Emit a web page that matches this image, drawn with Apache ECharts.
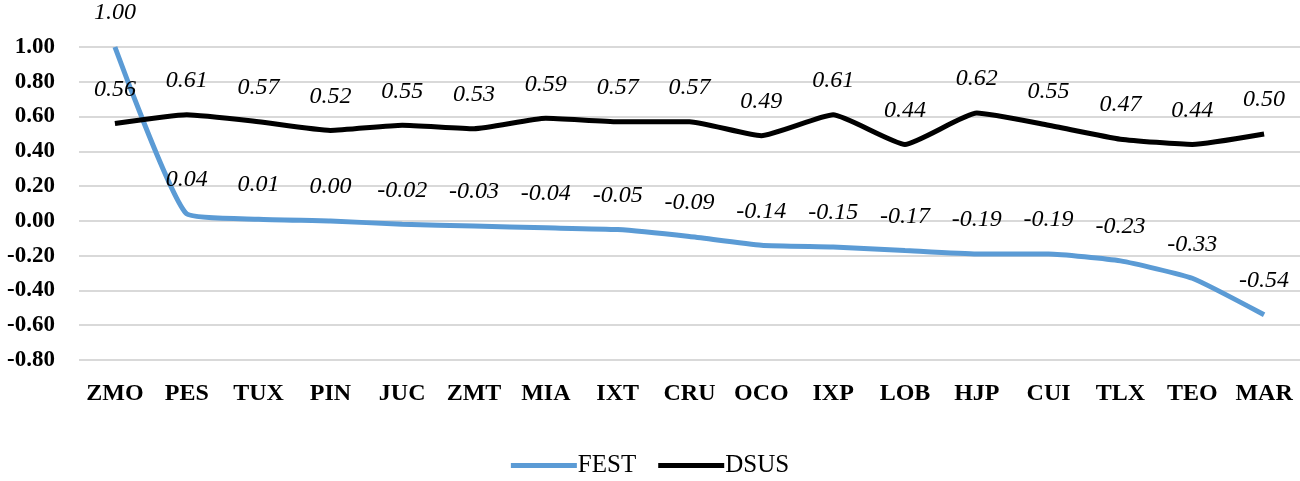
<!DOCTYPE html>
<html><head><meta charset="utf-8">
<script src="https://cdn.jsdelivr.net/npm/echarts@6/dist/echarts.min.js"></script>
<style>html,body{margin:0;padding:0;background:#fff}#c{width:1300px;height:481px}</style>
</head><body><div id="c"></div>
<script>
const categories = ['ZMO','PES','TUX','PIN','JUC','ZMT','MIA','IXT','CRU','OCO','IXP','LOB','HJP','CUI','TLX','TEO','MAR'];
const fest = [1.00,0.04,0.01,0.00,-0.02,-0.03,-0.04,-0.05,-0.09,-0.14,-0.15,-0.17,-0.19,-0.19,-0.23,-0.33,-0.54];
const dsus = [0.56,0.61,0.57,0.52,0.55,0.53,0.59,0.57,0.57,0.49,0.61,0.44,0.62,0.55,0.47,0.44,0.50];
const chart = echarts.init(document.getElementById('c'));
const lbl = {show:true, position:'top', distance:22, fontFamily:'Liberation Serif', fontStyle:'italic', fontSize:24, color:'#000', formatter:p=>p.value.toFixed(2)};
chart.setOption({
  animation:false,
  grid:{left:79, right:0, top:47, bottom:121},
  legend:{bottom:-2, left:'center', itemWidth:66, itemHeight:5, itemGap:22,
    textStyle:{fontFamily:'Liberation Serif', fontSize:25, color:'#000', padding:[0,0,0,-4]},
    data:[{name:'FEST', icon:'rect'},{name:'DSUS', icon:'rect'}]},
  xAxis:{type:'category', data:categories, boundaryGap:true,
    axisLine:{show:false}, axisTick:{show:false},
    axisLabel:{interval:0, hideOverlap:false, fontFamily:'Liberation Serif', fontWeight:'bold', fontSize:24, color:'#000', margin:22}},
  yAxis:{type:'value', min:-0.8, max:1.0, interval:0.2,
    axisLine:{show:false}, axisTick:{show:false},
    splitLine:{lineStyle:{color:'#d9d9d9', width:2}},
    axisLabel:{fontFamily:'Liberation Serif', fontWeight:'bold', fontSize:23, color:'#000', margin:24, formatter:v=>v.toFixed(2)}},
  series:[
    {name:'FEST', type:'line', data:fest, smooth:0.15, symbol:'circle', symbolSize:0, showSymbol:true, lineStyle:{color:'#5b9bd5', width:5}, itemStyle:{color:'#5b9bd5'}, label:lbl},
    {name:'DSUS', type:'line', data:dsus, smooth:0.15, symbol:'circle', symbolSize:0, showSymbol:true, lineStyle:{color:'#000', width:5}, itemStyle:{color:'#000'}, label:lbl}
  ]
});
</script></body></html>
